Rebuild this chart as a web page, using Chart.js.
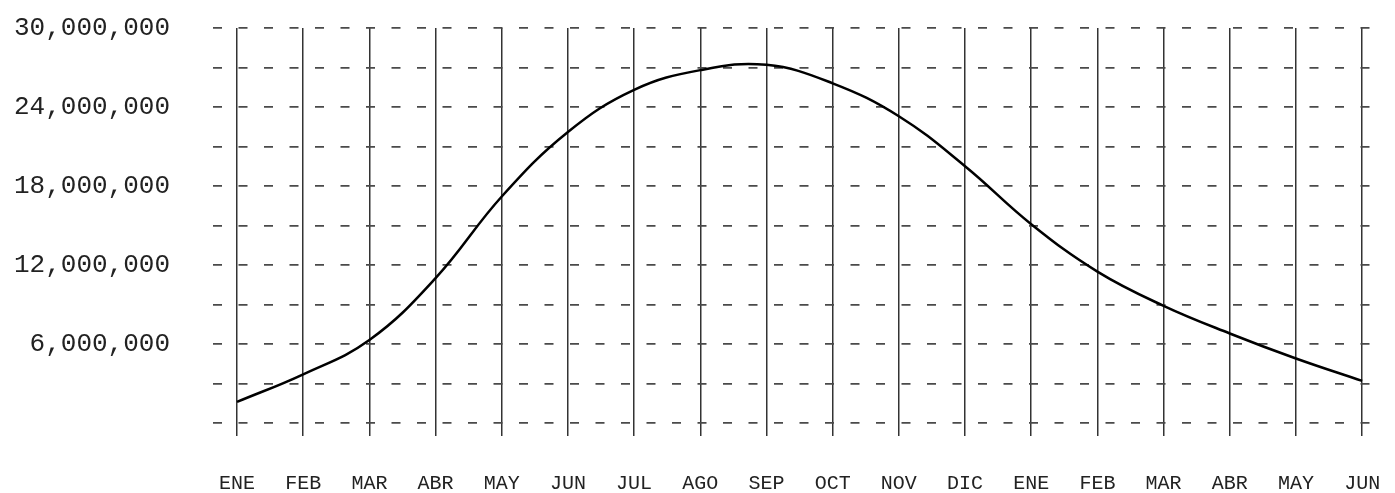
<!DOCTYPE html>
<html>
<head>
<meta charset="utf-8">
<script src="https://cdn.jsdelivr.net/npm/chart.js@4"></script>
<style>
  html, body { margin: 0; padding: 0; background: #fff; }
  #wrap { width: 1395px; height: 493px; position: relative; }
</style>
</head>
<body>
<div id="wrap"><canvas id="chart"></canvas></div>
<script>
// meses (eje x)
const months = ['ENE', 'FEB', 'MAR', 'ABR', 'MAY', 'JUN', 'JUL', 'AGO', 'SEP', 'OCT', 'NOV', 'DIC',
                'ENE', 'FEB', 'MAR', 'ABR', 'MAY', 'JUN'];
// valores
const values = [1600000, 3700000, 6300000, 11000000, 17200000, 22100000, 25300000, 26800000, 27200000,
                25800000, 23300000, 19500000, 15100000, 11500000, 8900000, 6800000, 4900000, 3200000];
// etiquetas del eje y
const yLabels = [6000000, 12000000, 18000000, 24000000, 30000000];

const mono = "'Liberation Mono', 'Courier New', monospace";

new Chart(document.getElementById('chart'), {
    type: 'line',
    data: {
        datasets: [{
            data: values.map((v, i) => ({ x: i, y: v })),
            borderColor: '#000',
            borderWidth: 2.5,
            tension: 0.4,
            pointRadius: 0,
            fill: false
        }]
    },
    options: {
        responsive: true,
        maintainAspectRatio: false,
        animation: false,
        layout: { padding: { top: 28, right: 15, left: 0, bottom: 0 } },
        plugins: {
            legend: { display: false },
            tooltip: { enabled: false }
        },
        scales: {
            x: {
                type: 'linear',
                min: -0.363,
                max: 17.27,
                afterBuildTicks: (scale) => {
                    scale.ticks = months.map((_, i) => ({ value: i }));
                },
                afterFit: (scale) => {
                    scale.height = 70;
                    scale.paddingLeft = 0;
                    scale.paddingRight = 0;
                },
                grid: {
                    color: '#333',
                    lineWidth: 1.5,
                    drawTicks: true,
                    tickLength: 13
                },
                border: { display: false },
                ticks: {
                    autoSkip: false,
                    maxRotation: 0,
                    padding: 36,
                    color: '#222',
                    font: { family: mono, size: 20 },
                    callback: (v) => months[v]
                }
            },
            y: {
                min: 0,
                max: 30000000,
                afterFit: (scale) => {
                    scale.width = 213;
                    scale.paddingTop = 0;
                    scale.paddingBottom = 0;
                },
                grid: {
                    color: '#4a4a4a',
                    lineWidth: 1.8,
                    drawTicks: false
                },
                border: { display: false, dash: [9, 16.5] },
                ticks: {
                    stepSize: 3000000,
                    padding: 43,
                    color: '#222',
                    font: { family: mono, size: 26 },
                    callback: (v) => yLabels.includes(v) ? v.toLocaleString('en-US') : ''
                }
            }
        }
    }
});
</script>
</body>
</html>
